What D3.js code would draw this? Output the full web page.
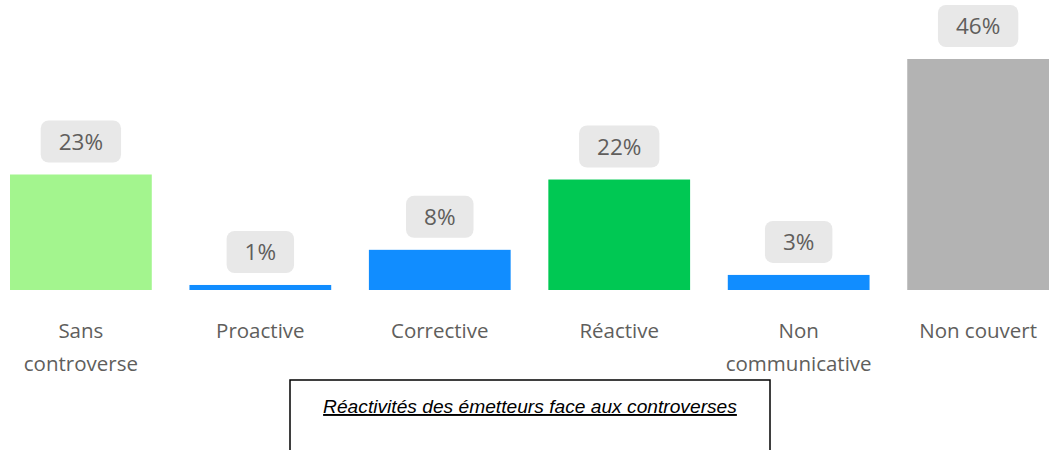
<!DOCTYPE html>
<html>
<head>
<meta charset="utf-8">
<script src="https://cdn.jsdelivr.net/npm/d3@7"></script>
<style>
  body { margin: 0; background: #fff; }
  svg { display: block; }
</style>
</head>
<body>
<svg></svg>
<script>
const width = 1050;
const height = 450;

const categories = [['Sans', 'controverse'], ['Proactive'], ['Corrective'], ['Réactive'], ['Non', 'communicative'], ['Non couvert']];
const values = [23, 1, 8, 22, 3, 46];
const colors = ['#a3f58e', '#118dff', '#118dff', '#00c853', '#118dff', '#b3b3b3'];
const title = 'Réactivités des émetteurs face aux controverses';

const baseline = 290;

const svg = d3.select('svg')
  .attr('width', width)
  .attr('height', height);

const xScale = d3.scaleBand()
  .domain(d3.range(values.length))
  .range([10, 1049])
  .paddingInner(0.21)
  .paddingOuter(0);

const yScale = d3.scaleLinear()
  .domain([0, 46])
  .range([baseline, 59]);

svg.selectAll('rect.bar')
  .data(values)
  .enter()
  .append('rect')
  .attr('class', 'bar')
  .attr('x', (d, i) => xScale(i))
  .attr('y', d => yScale(d))
  .attr('width', xScale.bandwidth())
  .attr('height', d => baseline - yScale(d))
  .attr('fill', (d, i) => colors[i]);

// value badges
const badges = svg.selectAll('g.badge')
  .data(values)
  .enter()
  .append('g')
  .attr('class', 'badge')
  .attr('transform', (d, i) => `translate(${xScale(i) + xScale.bandwidth() / 2},${yScale(d) - 33})`);

badges.append('text')
  .attr('text-anchor', 'middle')
  .attr('dy', '0.36em')
  .attr('font-family', 'Open Sans, sans-serif')
  .attr('font-size', 22.5)
  .attr('fill', '#605e5c')
  .text(d => d + '%')
  .each(function () {
    const w = this.getComputedTextLength() + 36;
    d3.select(this.parentNode).insert('rect', 'text')
      .attr('x', -w / 2)
      .attr('y', -21)
      .attr('width', w)
      .attr('height', 42)
      .attr('rx', 8)
      .attr('fill', '#e8e8e8');
  });

// category labels
const labels = svg.selectAll('text.cat')
  .data(categories)
  .enter()
  .append('text')
  .attr('class', 'cat')
  .attr('text-anchor', 'middle')
  .attr('font-family', 'Open Sans, sans-serif')
  .attr('font-size', 20.5)
  .attr('fill', '#605e5c')
  .attr('x', (d, i) => xScale(i) + xScale.bandwidth() / 2)
  .attr('y', 338);

labels.selectAll('tspan')
  .data(d => d)
  .enter()
  .append('tspan')
  .attr('x', function () { return d3.select(this.parentNode).attr('x'); })
  .attr('dy', (d, i) => i === 0 ? 0 : 33)
  .text(d => d);

// caption box
svg.append('rect')
  .attr('x', 290)
  .attr('y', 380)
  .attr('width', 480)
  .attr('height', 90)
  .attr('fill', 'none')
  .attr('stroke', '#000')
  .attr('stroke-width', 1.5);

svg.append('text')
  .attr('x', 530)
  .attr('y', 413)
  .attr('text-anchor', 'middle')
  .attr('font-family', 'Liberation Sans, sans-serif')
  .attr('font-style', 'italic')
  .attr('font-size', 19.2)
  .attr('text-decoration', 'underline')
  .attr('fill', '#000')
  .text(title);
</script>
</body>
</html>
